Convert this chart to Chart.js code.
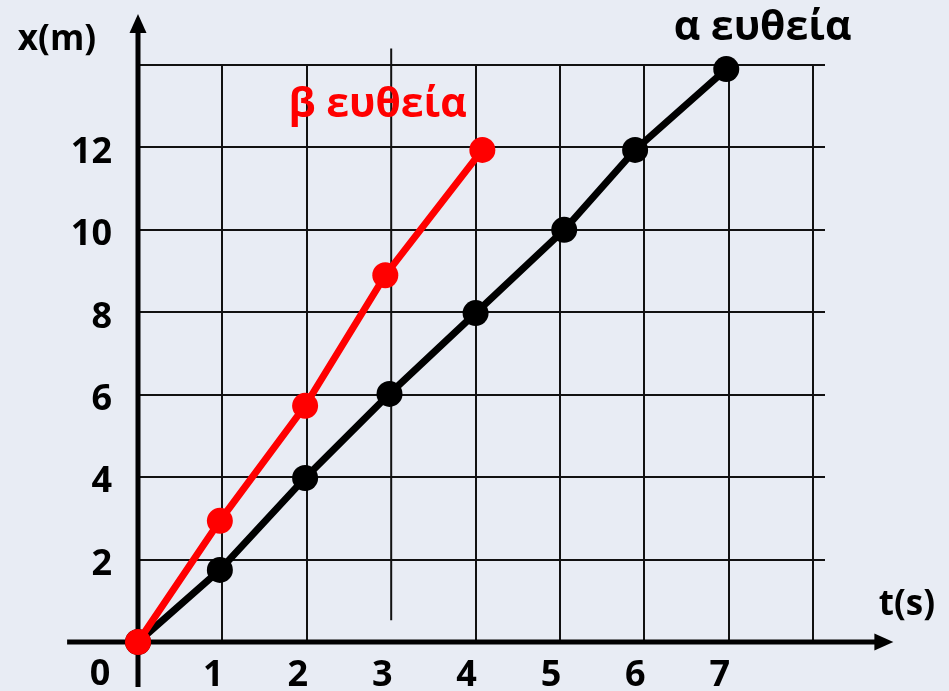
<!DOCTYPE html>
<html lang="el">
<head>
<meta charset="utf-8">
<title>x - t</title>
<script src="https://cdn.jsdelivr.net/npm/chart.js@4.4.1/dist/chart.umd.min.js"></script>
<style>
  html, body { margin: 0; padding: 0; background: #e8ecf4; }
  #grafico { display: block; }
</style>
</head>
<body>
<canvas id="grafico" width="949" height="691"></canvas>
<script>
// dados (t em s, x em m)
const nomes = ['α ευθεία', 'β ευθεία'];
const alfaT = [0, 0.97, 1.98, 2.98, 4.0, 5.05, 5.89, 6.97];
const alfaX = [0, 1.75, 3.98, 6.02, 7.98, 10.0, 11.94, 13.9];
const betaT = [0, 0.97, 1.98, 2.93, 4.08];
const betaX = [0, 2.94, 5.73, 8.9, 11.94];
const marcasT = [1, 2, 3, 4, 5, 6, 7];
const marcasX = [2, 4, 6, 8, 10, 12];

const fonte = '"Open Sans", "DejaVu Sans", sans-serif';
const preto = '#000000';
const vermelho = '#ff0000';
const fundo = '#e8ecf4';

function pontos(ts, xs) {
    return ts.map((t, i) => ({ x: t, y: xs[i] }));
}

// eixos com setas, linha extra do 3 e textos
const eixos = {
    id: 'eixos',
    beforeDraw(chart) {
        const c = chart.ctx;
        c.save();
        c.fillStyle = fundo;
        c.fillRect(0, 0, chart.width, chart.height);
        c.restore();
    },
    beforeDatasetsDraw(chart) {
        const c = chart.ctx;
        const sx = chart.scales.x, sy = chart.scales.y;
        const x0 = sx.getPixelForValue(0), y0 = sy.getPixelForValue(0);
        c.save();
        // linha vertical do 3 (mais comprida em cima)
        c.strokeStyle = '#111';
        c.lineWidth = 2;
        c.beginPath();
        c.moveTo(sx.getPixelForValue(3), sy.getPixelForValue(14.4));
        c.lineTo(sx.getPixelForValue(3), sy.getPixelForValue(0.53));
        c.stroke();

        c.strokeStyle = preto;
        c.fillStyle = preto;
        c.lineWidth = 5;
        // eixo t
        const fimX = sx.getPixelForValue(8.95);
        c.beginPath();
        c.moveTo(sx.getPixelForValue(-0.84), y0);
        c.lineTo(fimX - 16, y0);
        c.stroke();
        c.beginPath();
        c.moveTo(fimX, y0);
        c.lineTo(fimX - 19, y0 - 8.5);
        c.lineTo(fimX - 19, y0 + 8.5);
        c.closePath();
        c.fill();
        // eixo x
        const topoY = sy.getPixelForValue(15.24);
        c.beginPath();
        c.moveTo(x0, sy.getPixelForValue(-1.09));
        c.lineTo(x0, topoY + 16);
        c.stroke();
        c.beginPath();
        c.moveTo(x0, topoY);
        c.lineTo(x0 - 8.5, topoY + 19);
        c.lineTo(x0 + 8.5, topoY + 19);
        c.closePath();
        c.fill();
        c.restore();
    },
    afterDraw(chart) {
        const c = chart.ctx;
        const sx = chart.scales.x, sy = chart.scales.y;
        c.save();
        c.textAlign = 'center';
        c.textBaseline = 'alphabetic';
        c.fillStyle = preto;
        c.font = 'bold 35px ' + fonte;
        c.fillText('x(m)', sx.getPixelForValue(-0.96), sy.getPixelForValue(14.37));
        c.fillText('t(s)', sx.getPixelForValue(9.11), sy.getPixelForValue(0.66));
        c.font = 'bold 36px ' + fonte;
        c.fillText('0', sx.getPixelForValue(-0.45), sy.getPixelForValue(-1.04));
        c.font = 'bold 41px ' + fonte;
        c.fillText(nomes[0], sx.getPixelForValue(7.4), sy.getPixelForValue(14.6));
        c.fillStyle = vermelho;
        c.fillText(nomes[1], sx.getPixelForValue(2.84), sy.getPixelForValue(12.74));
        c.restore();
    }
};

const ctx = document.getElementById('grafico').getContext('2d');
const grafico = new Chart(ctx, {
    type: 'scatter',
    data: {
        datasets: [{
            label: nomes[1],
            data: pontos(betaT, betaX),
            showLine: true,
            borderColor: vermelho,
            backgroundColor: vermelho,
            borderWidth: 7,
            pointRadius: 13,
            pointHoverRadius: 13,
            pointBorderWidth: 0,
            order: 0,
            clip: false
        }, {
            label: nomes[0],
            data: pontos(alfaT, alfaX),
            showLine: true,
            borderColor: preto,
            backgroundColor: preto,
            borderWidth: 7,
            pointRadius: 13,
            pointHoverRadius: 13,
            pointBorderWidth: 0,
            order: 1,
            clip: false
        }]
    },
    options: {
        responsive: false,
        animation: false,
        events: [],
        layout: { padding: { top: 65, right: 124, left: 0, bottom: 0 } },
        plugins: {
            legend: { display: false },
            tooltip: { enabled: false }
        },
        scales: {
            x: {
                type: 'linear',
                min: 0,
                max: 8.14,
                afterBuildTicks: s => { s.ticks = [0, 1, 2, 3, 4, 5, 6, 7, 8].map(v => ({ value: v })); },
                afterFit: s => { s.height = 49; },
                border: { display: false },
                grid: {
                    color: g => (g.tick && g.tick.value === 3) ? 'rgba(0,0,0,0)' : '#111',
                    lineWidth: 2,
                    drawTicks: false
                },
                ticks: {
                    padding: 12,
                    labelOffset: -9,
                    color: preto,
                    font: { family: fonte, size: 36, weight: 'bold' },
                    callback: v => marcasT.includes(v) ? String(v) : ''
                }
            },
            y: {
                type: 'linear',
                min: 0,
                max: 14,
                afterFit: s => { s.width = 138; },
                border: { display: false },
                grid: { color: '#111', lineWidth: 2, drawTicks: false },
                ticks: {
                    stepSize: 2,
                    padding: 26,
                    labelOffset: 5,
                    color: preto,
                    font: { family: fonte, size: 36, weight: 'bold' },
                    callback: v => marcasX.includes(v) ? String(v) : ''
                }
            }
        }
    },
    plugins: [eixos]
});
</script>
</body>
</html>
